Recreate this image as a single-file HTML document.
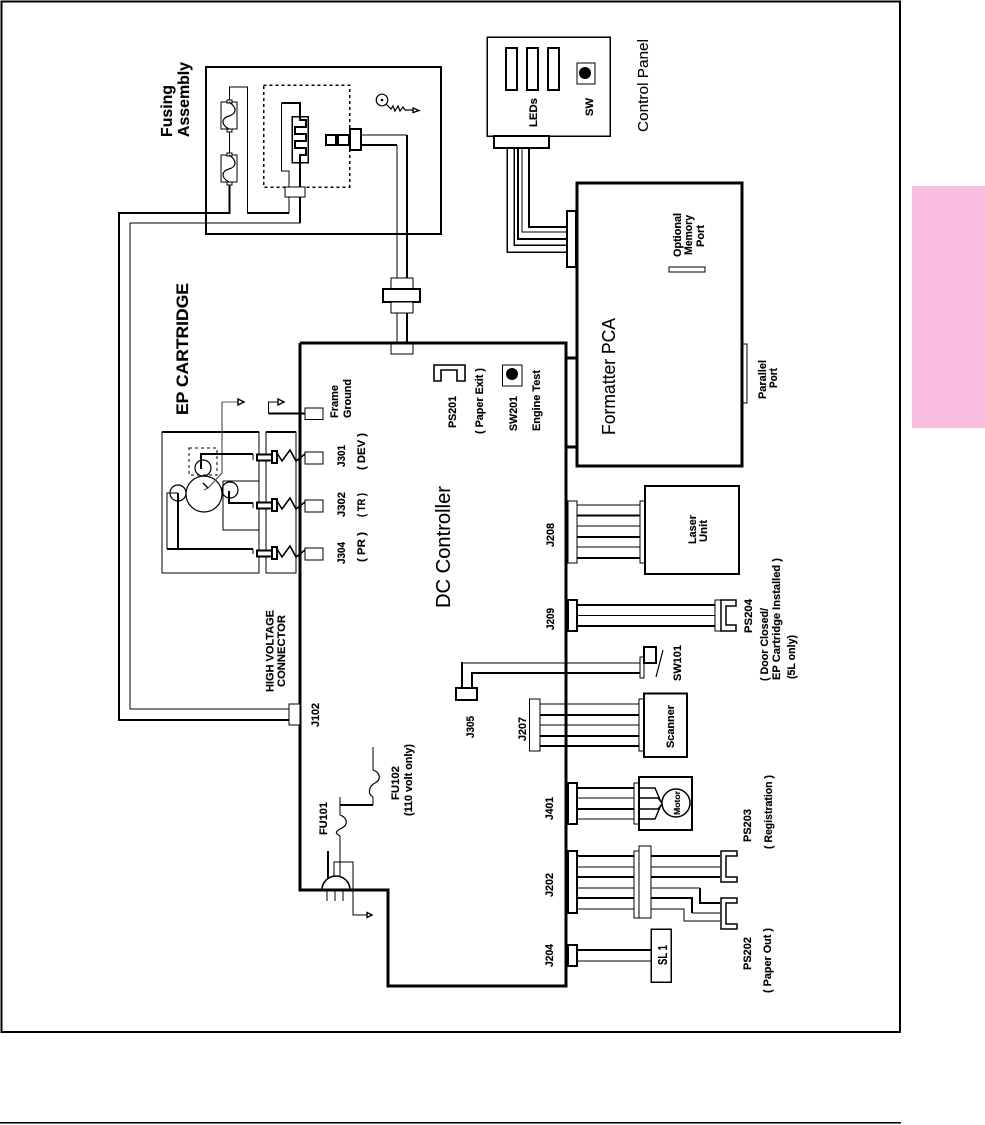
<!DOCTYPE html>
<html><head><meta charset="utf-8"><style>
html,body{margin:0;padding:0;background:#fff;width:985px;height:1125px;overflow:hidden}
svg{display:block}
text{font-family:"Liberation Sans",sans-serif;font-weight:bold;font-size:11px;fill:#000;stroke:#000;stroke-width:.15}
.n{font-weight:normal;stroke-width:.1}
rect,circle,polygon{stroke:#000;fill:#fff}
polyline,path{fill:none;stroke:#000;stroke-linejoin:miter}
line{stroke:#000}
line,rect,polyline{shape-rendering:crispEdges}
polyline.a,line.a{shape-rendering:auto}
[stroke-width="1"]{stroke-width:1.4}
</style></head><body>
<svg width="985" height="1125" viewBox="0 0 985 1125" xmlns="http://www.w3.org/2000/svg">
<rect x="912" y="186" width="73" height="242" style="fill:#f9bde0;stroke:none"/>
<rect x="1.5" y="1.5" width="898.5" height="1030.5" style="fill:none" stroke-width="2"/>
<line x1="0" y1="1122.5" x2="901" y2="1122.5" stroke-width="1.5"/>

<!-- Fusing -->
<rect x="206" y="67" width="235" height="167" stroke-width="2" style="fill:none"/>
<polyline points="229.5,102 229.5,87 247.5,87 247.5,213 289,213 289,197" stroke-width="1"/>
<line x1="247.5" y1="213" x2="289" y2="213" stroke-width="2"/>
<polyline points="120,213 229.5,213 229.5,182" stroke-width="2"/>
<line x1="229.5" y1="182" x2="229.5" y2="213" stroke-width="1"/>
<line x1="229.5" y1="129" x2="229.5" y2="155" stroke-width="1"/>
<polyline points="119,212 119,720 289,720" stroke-width="2"/>
<polyline points="130,223 300,223 300,197" stroke-width="1"/>
<line x1="300" y1="197" x2="300" y2="223" stroke-width="2"/>
<polyline points="130,223 130,709 289,709" stroke-width="1"/>
<rect x="221" y="102" width="16" height="27" stroke-width="1.3"/>
<rect x="221" y="155" width="16" height="27" stroke-width="1.3"/>
<rect x="227" y="100" width="5" height="3" stroke-width="1"/><rect x="227" y="129" width="5" height="3" stroke-width="1"/>
<rect x="227" y="153" width="5" height="3" stroke-width="1"/><rect x="227" y="182" width="5" height="3" stroke-width="1"/>
<path d="M229,102 C238,108 236,114 229,116 C222,118 220,124 229,129" stroke-width="1.2"/>
<path d="M229,155 C238,161 236,167 229,169 C222,171 220,177 229,182" stroke-width="1.2"/>
<rect x="263.5" y="85" width="86" height="102" stroke-width="1.5" stroke-dasharray="3 3" style="fill:none"/>
<polyline points="300,117 300,103 281.5,103" stroke-width="2"/>
<polyline points="281.5,103 281.5,171 289,171 289,187" stroke-width="1"/>
<line x1="300" y1="163" x2="300" y2="187" stroke-width="2"/>
<rect x="292" y="116.500" width="16" height="46" stroke-width="1.5"/>
<polyline points="300,116 300,120 306,120 306,127 295,127 295,134 306,134 306,141 295,141 295,148 306,148 306,155 300,155 300,163" stroke-width="1.6"/>
<rect x="285" y="187" width="20" height="10" stroke-width="1.3"/>
<line x1="361" y1="135" x2="407" y2="135" stroke-width="1"/>
<line x1="407" y1="135" x2="407" y2="343" stroke-width="2"/>
<polyline points="361,145 397,145" stroke-width="2"/>
<line x1="397" y1="145" x2="397" y2="343" stroke-width="1"/>
<rect x="326" y="135" width="10" height="10" stroke-width="2"/>
<rect x="338" y="135" width="11" height="10" stroke-width="2"/>
<line x1="336" y1="140" x2="338" y2="140" stroke-width="1.5"/>
<rect x="350" y="129" width="11" height="21" stroke-width="2"/>
<rect x="391" y="278" width="22" height="11" stroke-width="1"/>
<rect x="383" y="289" width="37" height="13" stroke-width="2"/>
<rect x="391" y="302" width="22" height="11" stroke-width="1"/>
<rect x="391" y="343" width="22" height="11" stroke-width="1"/>
<circle cx="382" cy="100" r="5.8" stroke-width="1.2"/>
<circle cx="382" cy="100" r="0.8" style="fill:#000"/>
<polyline class="a" points="386,104 391,109 393,106 395,111 398,106 400,111 403,107 405,110 415,110" stroke-width="1.2"/>
<polygon points="413,108 419,110.5 413,112.5" stroke-width="1"/>

<!-- Control Panel -->
<rect x="487" y="37" width="123" height="99" stroke-width="1.5"/>
<rect x="506" y="48" width="11" height="42" stroke-width="2"/>
<rect x="527" y="48" width="11" height="42" stroke-width="2"/>
<rect x="548" y="48" width="11" height="42" stroke-width="2"/>
<rect x="577" y="63" width="18" height="21" stroke-width="1"/>
<circle cx="585" cy="73" r="5.5" style="fill:#000"/>
<polyline points="507,148 507,252 567,252" stroke-width="1.5"/>
<polyline points="514,148 514,245 567,245" stroke-width="1.5"/>
<polyline points="518,148 518,239 567,239" stroke-width="2"/>
<polyline points="522,148 522,232 567,232" stroke-width="1"/>
<polyline points="529,148 529,227 567,227" stroke-width="2"/>
<rect x="494" y="136" width="55" height="12" stroke-width="2"/>

<!-- Formatter -->
<rect x="577" y="183" width="165" height="283" stroke-width="3" style="fill:#fff"/>
<rect x="567" y="211" width="9" height="56" stroke-width="2"/>
<rect x="669" y="267" width="36" height="5" stroke-width="1"/>
<rect x="743" y="344" width="4" height="59" stroke-width="1"/>
<line x1="566" y1="358" x2="577" y2="358" stroke-width="3"/>
<line x1="566" y1="447" x2="577" y2="447" stroke-width="3"/>

<!-- DC Controller outline -->
<polyline points="300,343 566,343 566,986 388,986 388,890 300,890 300,343" stroke-width="3" stroke-linejoin="miter"/>

<!-- PS201, SW201 -->
<polygon points="434,381 434,365 465,365 465,381 457,381 457,370 441,370 441,381" stroke-width="1.6"/>
<rect x="502.500" y="365" width="19.500" height="21" stroke-width="1"/>
<circle cx="512" cy="374" r="5.5" style="fill:#000"/>

<!-- Laser -->
<line x1="577" x2="640" y1="505" y2="505" stroke-width="1"/>
<line x1="577" x2="640" y1="515.500" y2="515.500" stroke-width="2"/>
<line x1="577" x2="640" y1="526" y2="526" stroke-width="1"/>
<line x1="577" x2="640" y1="537" y2="537" stroke-width="2"/>
<line x1="577" x2="640" y1="547" y2="547" stroke-width="1"/>
<line x1="577" x2="640" y1="558" y2="558" stroke-width="2"/>
<rect x="568" y="501" width="9" height="62" stroke-width="1"/>
<rect x="640" y="501" width="5" height="62" stroke-width="1"/>
<rect x="645" y="486" width="94" height="88" stroke-width="2"/>

<!-- J209 PS204 -->
<line x1="577" x2="715" y1="605" y2="605" stroke-width="2"/>
<line x1="577" x2="715" y1="615.500" y2="615.500" stroke-width="1"/>
<line x1="577" x2="715" y1="626" y2="626" stroke-width="2"/>
<rect x="568" y="600" width="9" height="31" stroke-width="2"/>
<rect x="715" y="600" width="6" height="31" stroke-width="1"/>
<polygon points="721,600 736,600 736,606 726,606 726,625 736,625 736,631 721,631" stroke-width="1.5"/>

<!-- SW101 / J305 -->
<line x1="462" y1="663" x2="640" y2="663" stroke-width="1"/>
<line x1="462" y1="688" x2="462" y2="662" stroke-width="2"/>
<polyline points="472,688 472,673 640,673" stroke-width="2"/>
<line x1="472" y1="688" x2="472" y2="674" stroke-width="1"/>
<rect x="456" y="688" width="21" height="12" stroke-width="2"/>
<rect x="640" y="657" width="4" height="21" stroke-width="1"/>
<rect x="644" y="647" width="12" height="16" stroke-width="2"/>
<line class="a" x1="663" y1="650" x2="656" y2="677" stroke-width="1.2"/>

<!-- J207 Scanner -->
<line x1="540" x2="639" y1="704" y2="704" stroke-width="1"/>
<line x1="540" x2="639" y1="715" y2="715" stroke-width="2"/>
<line x1="540" x2="639" y1="725" y2="725" stroke-width="1"/>
<line x1="540" x2="639" y1="736" y2="736" stroke-width="2"/>
<line x1="540" x2="639" y1="746" y2="746" stroke-width="2"/>
<rect x="529.500" y="699" width="10.500" height="52" stroke-width="1"/>
<rect x="639" y="699" width="5" height="52" stroke-width="1"/>
<rect x="644" y="693.500" width="43" height="63.500" stroke-width="2"/>

<!-- J401 Motor -->
<line x1="577" x2="634" y1="788" y2="788" stroke-width="2"/>
<line x1="577" x2="634" y1="798" y2="798" stroke-width="1"/>
<line x1="577" x2="634" y1="809" y2="809" stroke-width="2"/>
<line x1="577" x2="634" y1="819" y2="819" stroke-width="1"/>
<rect x="568" y="783" width="9" height="41" stroke-width="2"/>
<rect x="634" y="783" width="5" height="41" stroke-width="1"/>
<rect x="639" y="777" width="53" height="53" stroke-width="2"/>
<polyline class="a" points="639,788 655,788 661,802" stroke-width="1"/>
<polyline class="a" points="639,798 658,798 662,803" stroke-width="1"/>
<polyline class="a" points="639,809 658,809 662,804" stroke-width="1"/>
<polyline class="a" points="639,819 655,819 661,805" stroke-width="1"/>
<circle cx="676" cy="803" r="14" stroke-width="1.5"/>

<!-- J202 -->
<line x1="577" x2="720" y1="856" y2="856" stroke-width="2"/>
<line x1="577" x2="720" y1="867" y2="867" stroke-width="1"/>
<line x1="577" x2="720" y1="877" y2="877" stroke-width="2"/>
<line x1="577" x2="700" y1="888" y2="888" stroke-width="1"/>
<polyline points="700,888 700,903 720,903" stroke-width="2"/>
<polyline points="577,898 692,898 692,913" stroke-width="2"/>
<line x1="692" y1="913" x2="720" y2="913" stroke-width="1"/>
<polyline points="577,909 684,909 684,921 720,921" stroke-width="1"/>
<rect x="568" y="851" width="9" height="62" stroke-width="2"/>
<rect x="634" y="851" width="5" height="67" stroke-width="1"/>
<rect x="639" y="846" width="12" height="72" stroke-width="1"/>
<polygon points="721,851 737,851 737,856 726,856 726,877 737,877 737,882 721,882" stroke-width="1.5"/>
<polygon points="721,898 737,898 737,903 726,903 726,924 737,924 737,929 721,929" stroke-width="1.5"/>

<!-- J204 SL1 -->
<line x1="577" x2="651" y1="950" y2="950" stroke-width="2"/>
<line x1="577" x2="651" y1="961" y2="961" stroke-width="1"/>
<rect x="568" y="945" width="9" height="21" stroke-width="2"/>
<rect x="651" y="929" width="20" height="53" stroke-width="1.5"/>

<!-- J102 -->
<rect x="289" y="704" width="11" height="21" stroke-width="1"/>

<!-- Fuses / AC -->
<line x1="373" y1="747" x2="373" y2="770" stroke-width="1"/>
<path d="M373,770 C381,773 381,780 375,783 C369,786 367,794 373,797" stroke-width="1.2"/>
<line x1="373" y1="797" x2="373" y2="805" stroke-width="1"/>
<line x1="340" y1="805" x2="373" y2="805" stroke-width="2"/>
<line x1="340" y1="797" x2="340" y2="815" stroke-width="1"/>
<path d="M340,815 C348,818 348,825 342,828 C336,831 334,833 340,836" stroke-width="1.2"/>
<line x1="340" y1="836" x2="340" y2="877" stroke-width="1"/>
<line x1="328" y1="851" x2="328" y2="878" stroke-width="2"/>
<path d="M322,890 A14,14 0 0 1 350,890" stroke-width="1.6"/>
<polyline points="334,877 334,862 353,862 353,915 367,915" stroke-width="1"/>
<line x1="327" x2="327" y1="890" y2="901" stroke-width="1"/>
<line x1="335" x2="335" y1="890" y2="901" stroke-width="1"/>
<line x1="343" x2="343" y1="890" y2="901" stroke-width="1"/>
<polygon points="367,912.500 372,915 367,917.500" stroke-width="1"/>

<!-- EP Cartridge -->
<rect x="162" y="432" width="97" height="141" stroke-width="1" style="fill:none"/>
<rect x="266" y="432" width="30" height="141" stroke-width="1" style="fill:none"/>
<line x1="266" y1="432" x2="296" y2="432" stroke-width="2"/>
<line x1="162" y1="432" x2="259" y2="432" stroke-width="2"/>
<polyline points="223,481 259,481" stroke-width="1"/>
<polyline points="223,481 223,530 259,530" stroke-width="1"/>
<rect x="189" y="448" width="28" height="27" stroke-width="1" stroke-dasharray="3 3" style="fill:none"/>
<circle cx="204" cy="494" r="18" stroke-width="1.2" style="fill:none"/>
<circle cx="203" cy="468" r="8" stroke-width="1.2" style="fill:none"/>
<circle cx="230" cy="490" r="8" stroke-width="1.2" style="fill:none"/>
<circle cx="178" cy="493" r="8" stroke-width="1.2" style="fill:none"/>
<polyline class="a" points="222,402 222,473 208,488 204,490" style="stroke:#555" stroke-width="1.2"/>
<polyline class="a" points="203,483 208,488" stroke-width="1"/>
<line x1="222" y1="402" x2="238" y2="402" style="stroke:#555" stroke-width="1"/>
<polygon points="238,399 244,402 238,405" stroke-width="1"/>
<polyline points="201,469 201,454 253,454" stroke-width="2"/>
<line x1="253" y1="454" x2="253" y2="460" stroke-width="1"/>
<polyline points="229,491 229,503 253,503" stroke-width="2"/>
<line x1="253" y1="503" x2="253" y2="508" stroke-width="1"/>
<polyline points="178,493 178,549 253,549" stroke-width="2"/>
<polyline points="167,549 178,549" stroke-width="2"/>
<polyline points="178,493 167,493 167,549" stroke-width="1"/>
<line x1="253" y1="549" x2="253" y2="554" stroke-width="1"/>

<!-- plungers -->
<g>
<rect x="257" y="454.500" width="15" height="6" stroke-width="2"/>
<rect x="272" y="451" width="5" height="12" stroke-width="2"/>
<polyline class="a" points="277,453 282,461 290,450 296,461 305,454" stroke-width="1.6"/>
</g>
<g transform="translate(0,48)">
<rect x="257" y="454.500" width="15" height="6" stroke-width="2"/>
<rect x="272" y="451" width="5" height="12" stroke-width="2"/>
<polyline class="a" points="277,453 282,461 290,450 296,461 305,454" stroke-width="1.6"/>
</g>
<g transform="translate(0,96)">
<rect x="257" y="454.500" width="15" height="6" stroke-width="2"/>
<rect x="272" y="451" width="5" height="12" stroke-width="2"/>
<polyline class="a" points="277,453 282,461 290,450 296,461 305,454" stroke-width="1.6"/>
</g>
<rect x="305" y="452" width="18" height="12" stroke-width="1"/>
<rect x="305" y="500" width="18" height="12" stroke-width="1"/>
<rect x="305" y="548" width="18" height="12" stroke-width="1"/>
<rect x="305" y="408" width="18" height="11.500" stroke-width="1"/>
<polyline points="305,413.500 268.500,413.500" stroke-width="2"/>
<polyline points="268.500,413.500 268.500,402 278,402" stroke-width="1"/>
<polygon points="278,399 284,402 278,405" stroke-width="1"/>

<!-- Text -->
<text class="n" style="font-size:15px" transform="translate(648,132) rotate(-90)" textLength="93" lengthAdjust="spacingAndGlyphs">Control Panel</text>
<text transform="translate(537,127) rotate(-90)" textLength="29" lengthAdjust="spacingAndGlyphs">LEDs</text>
<text transform="translate(593,116) rotate(-90)" textLength="18" lengthAdjust="spacingAndGlyphs">SW</text>
<text transform="translate(681,257) rotate(-90)" textLength="44" lengthAdjust="spacingAndGlyphs">Optional</text>
<text transform="translate(692,255) rotate(-90)" textLength="40" lengthAdjust="spacingAndGlyphs">Memory</text>
<text transform="translate(704,247) rotate(-90)" textLength="22" lengthAdjust="spacingAndGlyphs">Port</text>
<text class="n" style="font-size:18px" transform="translate(615,435) rotate(-90)" textLength="117" lengthAdjust="spacingAndGlyphs">Formatter PCA</text>
<text transform="translate(766,399) rotate(-90)" textLength="39" lengthAdjust="spacingAndGlyphs">Parallel</text>
<text transform="translate(777,388) rotate(-90)" textLength="20" lengthAdjust="spacingAndGlyphs">Port</text>
<text transform="translate(456,428) rotate(-90)" textLength="32" lengthAdjust="spacingAndGlyphs">PS201</text>
<text transform="translate(483,434) rotate(-90)" textLength="66" lengthAdjust="spacingAndGlyphs">( Paper Exit )</text>
<text transform="translate(517,431) rotate(-90)" textLength="35" lengthAdjust="spacingAndGlyphs">SW201</text>
<text transform="translate(540,431) rotate(-90)" textLength="61" lengthAdjust="spacingAndGlyphs">Engine Test</text>
<text class="n" style="font-size:20px" transform="translate(450,608) rotate(-90)" textLength="122" lengthAdjust="spacingAndGlyphs">DC Controller</text>
<text transform="translate(554,547) rotate(-90)" textLength="24" lengthAdjust="spacingAndGlyphs">J208</text>
<text transform="translate(554,630) rotate(-90)" textLength="22" lengthAdjust="spacingAndGlyphs">J209</text>
<text transform="translate(696,544) rotate(-90)" textLength="29" lengthAdjust="spacingAndGlyphs">Laser</text>
<text transform="translate(707,542) rotate(-90)" textLength="22" lengthAdjust="spacingAndGlyphs">Unit</text>
<text transform="translate(752,633) rotate(-90)" textLength="34" lengthAdjust="spacingAndGlyphs">PS204</text>
<text transform="translate(768,681) rotate(-90)" textLength="73" lengthAdjust="spacingAndGlyphs">( Door Closed/</text>
<text transform="translate(780,680) rotate(-90)" textLength="122" lengthAdjust="spacingAndGlyphs">EP Cartridge Installed )</text>
<text transform="translate(795,679) rotate(-90)" textLength="44" lengthAdjust="spacingAndGlyphs">(5L only)</text>
<text transform="translate(681,681) rotate(-90)" textLength="36" lengthAdjust="spacingAndGlyphs">SW101</text>
<text transform="translate(474,738) rotate(-90)" textLength="22" lengthAdjust="spacingAndGlyphs">J305</text>
<text transform="translate(526,741) rotate(-90)" textLength="24" lengthAdjust="spacingAndGlyphs">J207</text>
<text transform="translate(674,748) rotate(-90)" textLength="43" lengthAdjust="spacingAndGlyphs">Scanner</text>
<text style="font-size:8.5px" transform="translate(680,815) rotate(-90)" textLength="24" lengthAdjust="spacingAndGlyphs">Motor</text>
<text transform="translate(553,820) rotate(-90)" textLength="23" lengthAdjust="spacingAndGlyphs">J401</text>
<text transform="translate(553,897) rotate(-90)" textLength="24" lengthAdjust="spacingAndGlyphs">J202</text>
<text style="font-size:12.500px" transform="translate(667,965) rotate(-90)" textLength="20" lengthAdjust="spacingAndGlyphs">SL 1</text>
<text transform="translate(553,967) rotate(-90)" textLength="23" lengthAdjust="spacingAndGlyphs">J204</text>
<text transform="translate(751,842) rotate(-90)" textLength="33" lengthAdjust="spacingAndGlyphs">PS203</text>
<text transform="translate(772,849) rotate(-90)" textLength="74" lengthAdjust="spacingAndGlyphs">( Registration )</text>
<text transform="translate(751,970) rotate(-90)" textLength="33" lengthAdjust="spacingAndGlyphs">PS202</text>
<text transform="translate(771,993) rotate(-90)" textLength="65" lengthAdjust="spacingAndGlyphs">( Paper Out )</text>
<text style="font-size:17px" transform="translate(188,415) rotate(-90)" textLength="132" lengthAdjust="spacingAndGlyphs">EP CARTRIDGE</text>
<text style="font-size:16px" transform="translate(172,137) rotate(-90)" textLength="52" lengthAdjust="spacingAndGlyphs">Fusing</text>
<text style="font-size:16px" transform="translate(189,137) rotate(-90)" textLength="75" lengthAdjust="spacingAndGlyphs">Assembly</text>
<text transform="translate(338,418) rotate(-90)" textLength="33" lengthAdjust="spacingAndGlyphs">Frame</text>
<text transform="translate(351,418) rotate(-90)" textLength="39" lengthAdjust="spacingAndGlyphs">Ground</text>
<text transform="translate(345,467) rotate(-90)" textLength="22" lengthAdjust="spacingAndGlyphs">J301</text>
<text transform="translate(365,470) rotate(-90)" textLength="37" lengthAdjust="spacingAndGlyphs">( DEV )</text>
<text transform="translate(345,517) rotate(-90)" textLength="25" lengthAdjust="spacingAndGlyphs">J302</text>
<text transform="translate(365,517) rotate(-90)" textLength="24" lengthAdjust="spacingAndGlyphs">( TR )</text>
<text transform="translate(345,564) rotate(-90)" textLength="22" lengthAdjust="spacingAndGlyphs">J304</text>
<text transform="translate(365,562) rotate(-90)" textLength="30" lengthAdjust="spacingAndGlyphs">( PR )</text>
<text transform="translate(273.500,692) rotate(-90)" textLength="82" lengthAdjust="spacingAndGlyphs">HIGH VOLTAGE</text>
<text transform="translate(285,687) rotate(-90)" textLength="72" lengthAdjust="spacingAndGlyphs">CONNECTOR</text>
<text transform="translate(319,727) rotate(-90)" textLength="24" lengthAdjust="spacingAndGlyphs">J102</text>
<text transform="translate(327,835) rotate(-90)" textLength="33" lengthAdjust="spacingAndGlyphs">FU101</text>
<text transform="translate(399,800) rotate(-90)" textLength="34" lengthAdjust="spacingAndGlyphs">FU102</text>
<text transform="translate(412,816) rotate(-90)" textLength="72" lengthAdjust="spacingAndGlyphs">(110 volt only)</text>
</svg>
</body></html>
